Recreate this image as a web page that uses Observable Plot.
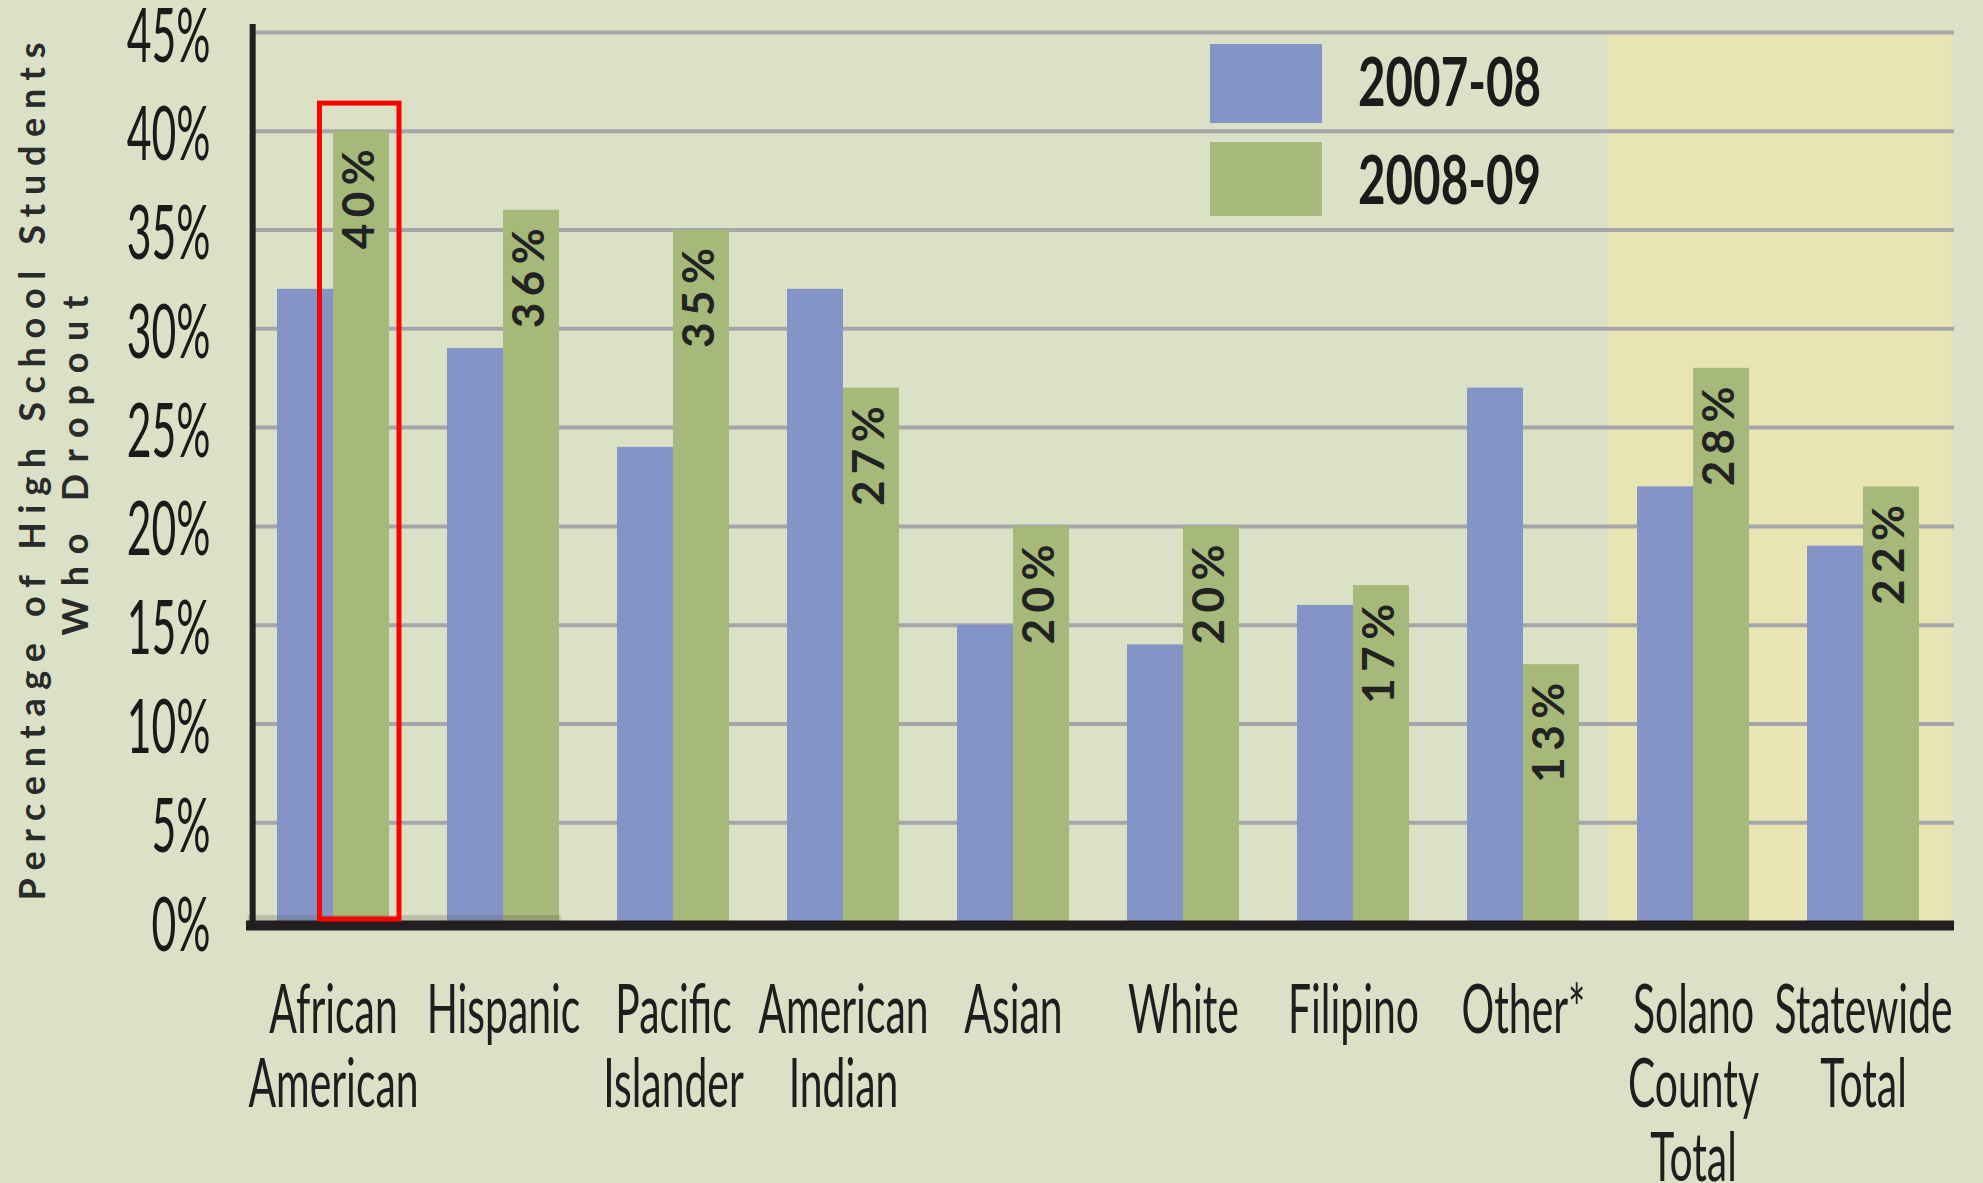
<!DOCTYPE html>
<html><head><meta charset="utf-8">
<script src="https://cdn.jsdelivr.net/npm/d3@7"></script>
<script src="https://cdn.jsdelivr.net/npm/@observablehq/plot@0.6"></script>
<style>
html,body{margin:0;padding:0;background:#dbe1c7;}
#wrap{position:relative;width:1983px;height:1183px;overflow:hidden;}
.sw{position:absolute;}
.lgt{position:absolute;font-family:Lato;font-weight:700;font-size:66px;line-height:66px;color:#1b1b1b;transform:scaleX(0.72);transform-origin:0 0;white-space:nowrap;}
</style></head><body><div id="wrap"></div>
<script>
// ---- data ----
const categories = ["African American", "Hispanic", "Pacific Islander", "American Indian", "Asian", "White", "Filipino", "Other*", "Solano County Total", "Statewide Total"];
const labelLines = [["African", "American"], ["Hispanic"], ["Pacific", "Islander"], ["American", "Indian"], ["Asian"], ["White"], ["Filipino"], ["Other*"], ["Solano", "County", "Total"], ["Statewide", "Total"]];
const series = ["2007-08", "2008-09"];
const values0708 = [32, 29, 24, 32, 15, 14, 16, 27, 22, 19];
const values0809 = [40, 36, 35, 27, 20, 20, 17, 13, 28, 22];
const yTicks = [0, 5, 10, 15, 20, 25, 30, 35, 40, 45];
const yTickLabels = ["0%", "5%", "10%", "15%", "20%", "25%", "30%", "35%", "40%", "45%"];
const highlightedGroups = ["Solano County Total", "Statewide Total"];
const focusGroup = "African American";
const focusTop = 41.4;
const yTitle = ["Percentage of High School Students", "Who Dropout"];
const seriesColors = ["#8494c6", "#a6b87a"];

// ---- layout ----
const W = 1983, H = 1183, mL = 244, mR = 32, mT = 32, mB = 262;
const pInner = 0.344, pOuter = 0.172;
const step = (W - mL - mR) / (categories.length - pInner + 2 * pOuter);
const bw = step * (1 - pInner);
const gap = step - bw;
const firstStart = mL + pOuter * step;
const frameMidY = (mT + (H - mB)) / 2;

const rows = categories.map((c, i) => ({category: c, a: values0708[i], b: values0809[i]}));
const labelRows = [];
labelLines.forEach((lines, i) => lines.forEach((t, k) => labelRows.push({category: categories[i], text: t, line: k})));

const ink = "#1e1e1e";
const marks = [
  Plot.barY(highlightedGroups, {x: d => d, y1: 0, y2: 45, fill: "#e9e4b4", insetLeft: -gap / 2, insetRight: -gap / 2 - 3}),
  Plot.ruleY(yTicks.filter(d => d > 0), {y: d => d, stroke: "#a6a6aa", strokeWidth: 4, insetLeft: 8, insetRight: -3}),
  Plot.barY(rows, {x: "category", y: "a", fill: seriesColors[0], insetRight: bw / 2}),
  Plot.barY(rows, {x: "category", y: "b", fill: seriesColors[1], insetLeft: bw / 2}),
  Plot.barY([categories[0]], {x: d => d, y1: 0, y2: 0.3, fill: "#5a5a5a", fillOpacity: 0.25, insetLeft: -gap / 2, insetRight: -(step + 1)}),
  Plot.ruleY([0], {y: d => d, stroke: "#231f20", strokeWidth: 10, dy: 4, insetLeft: 2, insetRight: -3}),
  Plot.barY([categories[0]], {x: d => d, y1: 0, y2: 45, fill: "#231f20", insetLeft: 246 - firstStart, insetRight: firstStart + bw - 252, insetTop: -8, insetBottom: -9}),
  Plot.barY([focusGroup], {x: d => d, y1: 0, y2: focusTop, fill: "none", stroke: "#ff0000", strokeWidth: 5, insetLeft: bw / 2 - 13.5, insetRight: -10, insetBottom: 2}),
  Plot.text(rows, {x: "category", y: "b", text: d => d.b + "%", rotate: -90, textAnchor: "end", dx: bw / 4 - 2, dy: 18, fontSize: 44, fontWeight: 700, fill: "#222", ariaDescription: "fit 100"}),
  Plot.text(yTicks, {y: d => d, text: (d, i) => yTickLabels[i], frameAnchor: "left", dx: -34, dy: 5, textAnchor: "end", fontSize: 75, fill: "#1a1a1a", ariaDescription: "squeeze 0.57"}),
  Plot.text([yTitle[0]], {text: d => d, frameAnchor: "left", rotate: -90, textAnchor: "start", lineAnchor: "bottom", dx: -200, dy: 900 - frameMidY, fontSize: 36, fontWeight: 700, fill: "#2a2a2a", ariaDescription: "fit 858"}),
  Plot.text([yTitle[1]], {text: d => d, frameAnchor: "left", rotate: -90, textAnchor: "start", lineAnchor: "bottom", dx: -157, dy: 635 - frameMidY, fontSize: 36, fontWeight: 700, fill: "#2a2a2a", ariaDescription: "fit 340"})
];
[0, 1, 2].forEach(k => {
  marks.push(Plot.text(labelRows.filter(r => r.line === k), {x: "category", text: "text", frameAnchor: "bottom", lineAnchor: "bottom", dy: 111 + 74 * k, fontSize: 67, fill: ink, ariaDescription: "squeeze 0.61"}));
});

const chart = Plot.plot({
  width: W, height: H, marginLeft: mL, marginRight: mR, marginTop: mT, marginBottom: mB,
  style: {background: "transparent", fontFamily: "Lato", overflow: "visible"},
  x: {type: "band", domain: categories, paddingInner: pInner, paddingOuter: pOuter, axis: null},
  y: {domain: [0, 45], axis: null},
  marks
});
const wrap = document.getElementById("wrap");
wrap.appendChild(chart);

// condense (horizontal scale about the anchor) / fit text
chart.querySelectorAll("g[aria-description]").forEach(g => {
  const [kind, val] = g.getAttribute("aria-description").split(" ");
  g.querySelectorAll("text").forEach(t => {
    if (kind === "squeeze") {
      const tr = t.getAttribute("transform");
      if (tr) {
        t.setAttribute("transform", tr + ` scale(${+val},1)`);
      } else {
        const x = +(t.getAttribute("x") || 0), y = +(t.getAttribute("y") || 0);
        t.setAttribute("transform", `translate(${x},${y}) scale(${+val},1) translate(${-x},${-y})`);
      }
    } else if (kind === "fit") {
      t.setAttribute("textLength", +val);
      t.setAttribute("lengthAdjust", "spacing");
    }
  });
});

// legend (inside plot area)
const legendPos = [{sq: [1210, 44, 112, 79], txt: [1358, 48]}, {sq: [1210, 142, 112, 74], txt: [1358, 146]}];
series.forEach((s, i) => {
  const p = legendPos[i];
  const sw = document.createElement("div");
  sw.className = "sw";
  Object.assign(sw.style, {left: p.sq[0] + "px", top: p.sq[1] + "px", width: p.sq[2] + "px", height: p.sq[3] + "px", background: seriesColors[i]});
  wrap.appendChild(sw);
  const t = document.createElement("div");
  t.className = "lgt";
  t.textContent = s;
  Object.assign(t.style, {left: p.txt[0] + "px", top: p.txt[1] + "px"});
  wrap.appendChild(t);
});
</script></body></html>
